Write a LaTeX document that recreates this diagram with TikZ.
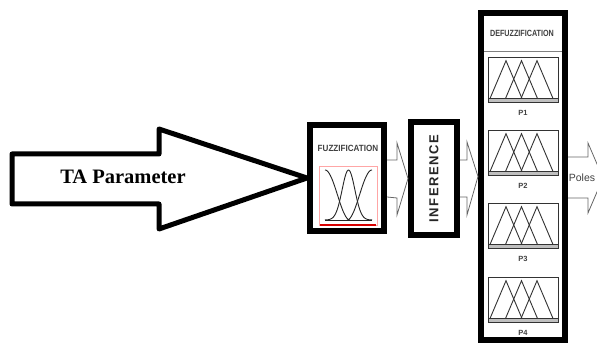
\documentclass[tikz,border=0pt]{standalone}
\usepackage{fontspec}
\setmainfont{Liberation Serif}
\setsansfont{Liberation Sans}
\usetikzlibrary{positioning, calc}

\begin{document}
\begin{tikzpicture}[x=1pt, y=-1pt]
    % Setup the styles for the blocks
        \tikzset{frame style/.style={draw=black,
                                     line width=6pt,
                                     fill=white,
                                     inner sep=0pt},
                 hollow style/.style={draw=black!60,
                                      line width=0.8pt},
                 mf style/.style={draw=black!80,
                                  line width=0.9pt},
                 title style/.style={font=\sffamily\bfseries\fontsize{9}{9}\selectfont,
                                     text=black!75,
                                     inner sep=0pt},
                 p style/.style={font=\sffamily\bfseries\fontsize{7.5}{7.5}\selectfont,
                                 text=black!75,
                                 inner sep=0pt}}
        \useasboundingbox (0,0) rectangle (597,347);
        % Draw the blocks
        \node[frame style, minimum width=74pt, minimum height=106pt] at (347, 178)    (fuzz) {};
        \node[frame style, minimum width=46pt, minimum height=113pt] at (434, 178.5)  (infer) {};
        \node[frame style, minimum width=84pt, minimum height=327pt] at (523, 176.5)  (defuzz) {};
        % Input arrow
        \draw[line width=5pt, line join=round, fill=white]
        (12,154) -- (159,154) -- (159,129) -- (fuzz.west)
        -- (159,229) -- (159,204) -- (12,204) -- cycle;
        \node[font=\bfseries\fontsize{20.5}{20.5}\selectfont] at (123,177) (input) {TA Parameter};
        % Fuzzification block
        \node[title style] at (348,148) (fuzztitle) {\scalebox{0.9}[1]{FUZZIFICATION}};
        \draw[draw=red!35, line width=0.8pt] (319,166) rectangle (377,225);
        \draw[red!85!black, line width=1.2pt] (320,225) -- (376,225);
        \draw[black!85, line width=0.9pt] (325,220) -- (372,220);
        \draw[black!85, line width=0.9pt, domain=325:350, samples=30]
        plot (\x, {220-25*(1+cos(180*(\x-325)/25))});
        \draw[black!85, line width=0.9pt, domain=325:372, samples=50]
        plot (\x, {220-50*exp(-((\x-348.5)/9)^2)});
        \draw[black!85, line width=0.9pt, domain=347:372, samples=30]
        plot (\x, {220-25*(1-cos(180*(\x-347)/25))});
        % Inference block
        \node[rotate=90, text=black!85,
              font=\sffamily\bfseries\fontsize{13}{13}\selectfont\addfontfeature{LetterSpace=12}]
        at (infer) (infertitle) {INFERENCE};
        % Hollow arrows between the blocks
        \draw[hollow style] ($(fuzz.east)+(0,-18)$) -- ++(10,0) -- ++(0,-17) -- (infer.west)
        -- ++(-11,36.5) -- ++(0,-17) -- ($(fuzz.east)+(0,19)$);
        \draw[hollow style] ($(infer.east)+(0,-18.5)$) -- ++(7,0) -- ++(0,-18) -- (defuzz.west)
        -- ++(-11,38.5) -- ++(0,-18) -- ($(infer.east)+(0,18.5)$);
        \coordinate (polestip) at (603,178);
        \draw[hollow style] ($(defuzz.east)+(0,-19.5)$) -- ++(20,0) -- ++(0,-14) -- (polestip)
        -- ++(-15,35) -- ++(0,-15) -- ($(defuzz.east)+(0,21.5)$);
        \node[font=\sffamily\fontsize{10.5}{10.5}\selectfont, text=black!75] at (582,178) (poles) {Poles};
        % Defuzzification block
        \node[title style] at (522,33) (defuzztitle) {\scalebox{0.8}[1]{DEFUZZIFICATION}};
        \draw[black!50, line width=0.8pt] (484,51) -- (562,51);
        \foreach \i/\y in {1/57, 2/130, 3/203, 4/277} {
            \draw[mf style, fill=black!25] (488,\y+41.5) rectangle (558,\y+45);
            \draw[mf style] (488,\y) rectangle (558,\y+45);
            \foreach \c in {506, 521.5, 537}
                \draw[mf style] (\c-16,\y+41.5) -- (\c,\y+3.7) -- (\c+16,\y+41.5);
            \node[p style] at (523,\y+56) (plabel\i) {P\i};
        }
\end{tikzpicture}
\end{document}
